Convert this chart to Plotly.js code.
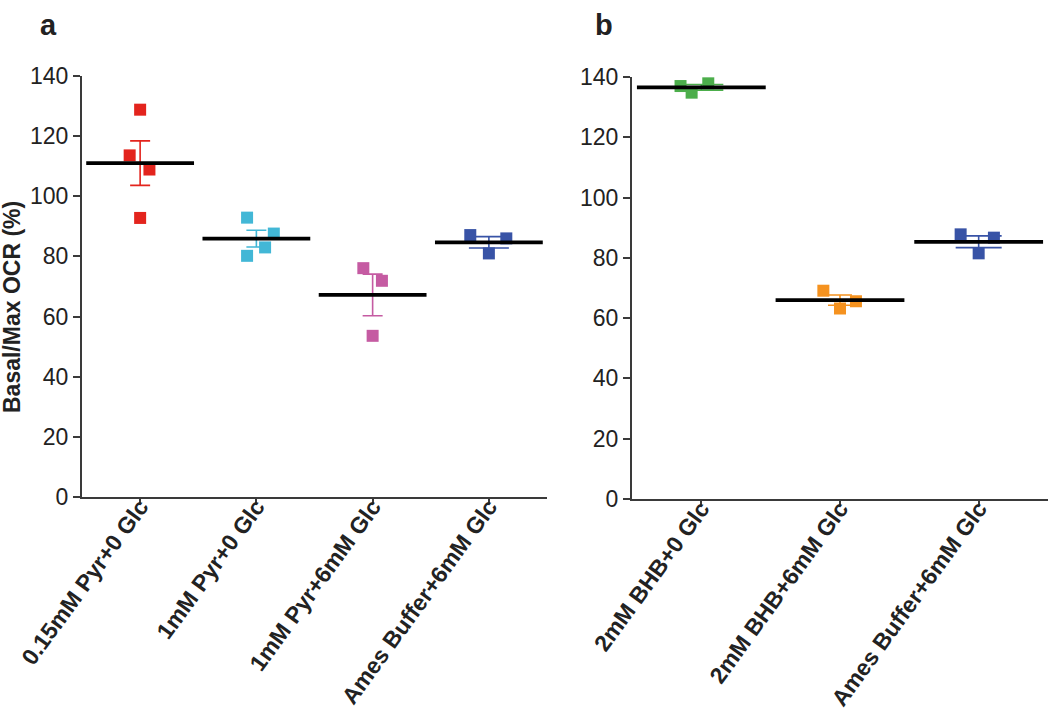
<!DOCTYPE html>
<html>
<head>
<meta charset="utf-8">
<script src="https://cdn.plot.ly/plotly-3.0.1.min.js"></script>
<style>html,body{margin:0;padding:0;background:#fff;}#chart{width:1050px;height:720px;}</style>
</head>
<body>
<div id="chart"></div>
<script>
// ---- Data ----
const categoriesA = ['0.15mM Pyr+0 Glc', '1mM Pyr+0 Glc', '1mM Pyr+6mM Glc', 'Ames Buffer+6mM Glc'];
const categoriesB = ['2mM BHB+0 Glc', '2mM BHB+6mM Glc', 'Ames Buffer+6mM Glc'];

const pyr015Glc0 = [128.8, 113.6, 108.9, 92.8];
const pyr1Glc0   = [92.9, 87.6, 83.0, 80.2];
const pyr1Glc6   = [76.1, 71.9, 53.6];
const amesA      = [87.1, 86.0, 81.0];

const bhbGlc0    = [137.0, 134.8, 137.9];
const bhbGlc6    = [69.1, 65.6, 63.2];
const amesB      = [87.8, 86.7, 81.5];

// horizontal scatter offsets of the individual points (category units)
const jitterPyr015 = [0, -0.09, 0.08, 0];
const jitterPyr1   = [-0.08, 0.15, 0.075, -0.08];
const jitterPyr1G6 = [-0.08, 0.08, 0];
const jitterAmesA  = [-0.16, 0.15, 0];
const jitterBhb0   = [-0.15, -0.07, 0.05];
const jitterBhb6   = [-0.12, 0.115, 0];
const jitterAmesB  = [-0.13, 0.11, 0];

const yTickVals = [0, 20, 40, 60, 80, 100, 120, 140];

// ---- helpers ----
const mean = a => a.reduce((s, v) => s + v, 0) / a.length;
const sem = a => {
  const m = mean(a);
  const sd = Math.sqrt(a.reduce((s, v) => s + (v - m) * (v - m), 0) / (a.length - 1));
  return sd / Math.sqrt(a.length);
};

const groups = [
  {vals: pyr015Glc0, jit: jitterPyr015, idx: 0, color: '#e3241d', xa: 'x',  ya: 'y',  cap: 10, len: 77},
  {vals: pyr1Glc0,   jit: jitterPyr1,   idx: 1, color: '#42b7d6', xa: 'x',  ya: 'y',  cap: 10, len: 77},
  {vals: pyr1Glc6,   jit: jitterPyr1G6, idx: 2, color: '#c55ba2', xa: 'x',  ya: 'y',  cap: 10, len: 77},
  {vals: amesA,      jit: jitterAmesA,  idx: 3, color: '#3853a6', xa: 'x',  ya: 'y',  cap: 20, len: 77},
  {vals: bhbGlc0,    jit: jitterBhb0,   idx: 0, color: '#4cae4b', xa: 'x2', ya: 'y2', cap: 22, len: 92},
  {vals: bhbGlc6,    jit: jitterBhb6,   idx: 1, color: '#f5921f', xa: 'x2', ya: 'y2', cap: 12, len: 92},
  {vals: amesB,      jit: jitterAmesB,  idx: 2, color: '#3853a6', xa: 'x2', ya: 'y2', cap: 23, len: 92}
];

const traces = [];
groups.forEach(g => {
  const m = mean(g.vals), e = sem(g.vals);
  // error bar
  traces.push({
    type: 'scatter', mode: 'markers', xaxis: g.xa, yaxis: g.ya,
    x: [g.idx], y: [m],
    marker: {size: 1, opacity: 0},
    error_y: {type: 'data', array: [e], visible: true, color: g.color, thickness: 1.6, width: g.cap},
    hoverinfo: 'skip', showlegend: false
  });
  // points
  traces.push({
    type: 'scatter', mode: 'markers', xaxis: g.xa, yaxis: g.ya,
    x: g.vals.map((v, i) => g.idx + g.jit[i]), y: g.vals,
    marker: {symbol: 'square', size: 12, color: g.color, line: {width: 0}},
    hoverinfo: 'skip', showlegend: false
  });
  // mean line
  traces.push({
    type: 'scatter', mode: 'markers', xaxis: g.xa, yaxis: g.ya,
    x: [g.idx], y: [m],
    marker: {symbol: 'line-ew', size: g.len, color: '#000', line: {color: '#000', width: 3.8}},
    hoverinfo: 'skip', showlegend: false
  });
});

const fontFam = 'Liberation Sans, Arial, sans-serif';
const yAxisCommon = {
  range: [0, 140], tickvals: yTickVals, ticktext: yTickVals.map(String),
  showline: true, linecolor: '#3a3a3a', linewidth: 2,
  ticks: 'outside', ticklen: 7, tickwidth: 2, tickcolor: '#3a3a3a',
  showgrid: false, zeroline: false, automargin: false,
  tickfont: {family: fontFam, size: 23, color: '#222'}
};
const xAxisCommon = {
  showline: true, linecolor: '#3a3a3a', linewidth: 2,
  ticks: 'outside', ticklen: 5, tickwidth: 2, tickcolor: '#3a3a3a',
  showgrid: false, zeroline: false, automargin: false, tickangle: -54,
  ticklabelstandoff: -20,
  tickfont: {family: fontFam, size: 23, color: '#222', weight: 'bold'}
};

const layout = {
  width: 1050, height: 720,
  margin: {l: 0, r: 0, t: 0, b: 0},
  paper_bgcolor: '#fff', plot_bgcolor: '#fff',
  showlegend: false,
  font: {family: fontFam},
  xaxis: Object.assign({}, xAxisCommon, {
    domain: [82 / 1050, 547 / 1050], range: [-0.5, 3.5], anchor: 'y',
    tickvals: categoriesA.map((c, i) => i), ticktext: categoriesA
  }),
  yaxis: Object.assign({}, yAxisCommon, {
    domain: [1 - 497 / 720, 1 - 76 / 720], anchor: 'x'
  }),
  xaxis2: Object.assign({}, xAxisCommon, {
    domain: [632 / 1050, 1048 / 1050], range: [-0.5, 2.5], anchor: 'y2',
    tickvals: categoriesB.map((c, i) => i), ticktext: categoriesB
  }),
  yaxis2: Object.assign({}, yAxisCommon, {
    domain: [1 - 499 / 720, 1 - 77 / 720], anchor: 'x2'
  }),
  annotations: [
    {text: 'a', xref: 'paper', yref: 'paper', x: 48 / 1050, y: 1 - 25 / 720,
     xanchor: 'center', yanchor: 'middle', showarrow: false,
     font: {family: fontFam, size: 29, color: '#222', weight: 'bold'}},
    {text: 'b', xref: 'paper', yref: 'paper', x: 604 / 1050, y: 1 - 25 / 720,
     xanchor: 'center', yanchor: 'middle', showarrow: false,
     font: {family: fontFam, size: 29, color: '#222', weight: 'bold'}},
    {text: 'Basal/Max OCR (%)', xref: 'paper', yref: 'paper', x: 12 / 1050, y: 1 - 307 / 720,
     xanchor: 'center', yanchor: 'middle', showarrow: false, textangle: -90,
     font: {family: fontFam, size: 23, color: '#222', weight: 'bold'}}
  ]
};

Plotly.newPlot('chart', traces, layout, {staticPlot: true, displayModeBar: false});
</script>
</body>
</html>
